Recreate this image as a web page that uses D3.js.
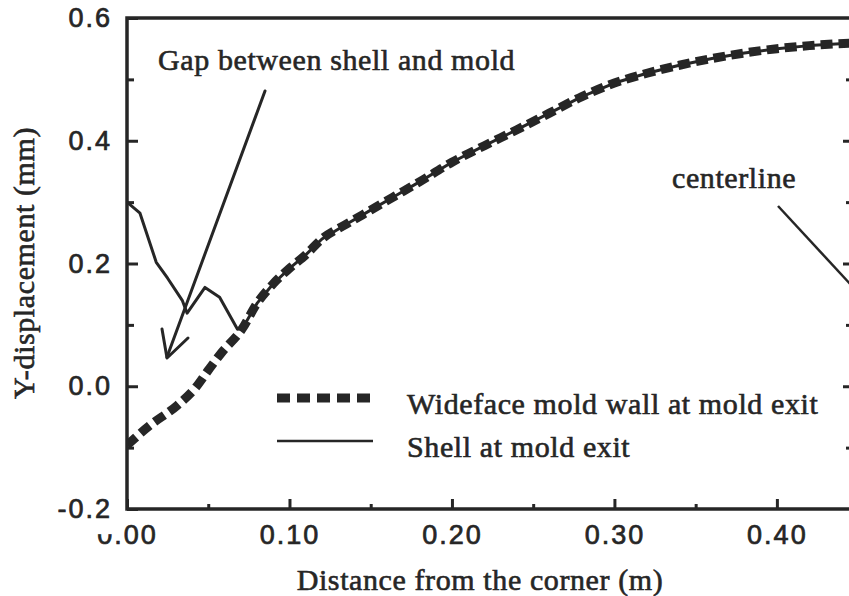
<!DOCTYPE html>
<html>
<head>
<meta charset="utf-8">
<script src="https://cdn.jsdelivr.net/npm/d3@7"></script>
<style>
  html, body { margin: 0; padding: 0; background: #fff; }
  svg { display: block; }
  .tick-label { font-family: "Liberation Sans", Arial, sans-serif; font-size: 27px; letter-spacing: 2px;
                fill: #262626; stroke: #262626; stroke-width: 0.7px; }
  .serif { font-family: "Liberation Serif", "Times New Roman", serif; font-size: 30px; letter-spacing: 0.6px;
           fill: #262626; stroke: #262626; stroke-width: 0.6px; }
</style>
</head>
<body>
<svg id="chart" width="849" height="596"></svg>
<script>
// Distance from the corner (m) and Y-displacement (mm) of the wideface mold wall
const moldX = [0.000, 0.014, 0.031, 0.042, 0.050, 0.058, 0.071, 0.080, 0.090, 0.100, 0.110,
               0.120, 0.135, 0.150, 0.165, 0.180, 0.200, 0.220, 0.240, 0.260, 0.280,
               0.300, 0.320, 0.340, 0.360, 0.380, 0.400, 0.420, 0.445];
const moldY = [-0.096, -0.064, -0.031, -0.003, 0.026, 0.054, 0.094, 0.135, 0.167, 0.192, 0.214,
               0.240, 0.264, 0.287, 0.310, 0.333, 0.365, 0.392, 0.418, 0.445, 0.472,
               0.494, 0.510, 0.523, 0.534, 0.543, 0.550, 0.555, 0.559];

// Shell near the corner; beyond ~0.07 m it lies against the mold wall
const shellX = [0.000, 0.008, 0.018, 0.025, 0.034, 0.037, 0.048, 0.057, 0.068, 0.071];
const shellY = [0.300, 0.282, 0.202, 0.176, 0.140, 0.119, 0.161, 0.145, 0.093, 0.094];

const xMajorTicks = [0, 0.1, 0.2, 0.3, 0.4];
const xMinorTicks = [0.05, 0.15, 0.25, 0.35];
const yMajorTicks = [-0.2, 0, 0.2, 0.4, 0.6];
const yMinorTicks = [-0.1, 0.1, 0.3, 0.5];

const legendLabels = ["Wideface mold wall at mold exit", "Shell at mold exit"];

const svg = d3.select("#chart");
const ink = "#262626";

const x = d3.scaleLinear().domain([0, 0.445]).range([127, 850]);
const y = d3.scaleLinear().domain([-0.2, 0.6]).range([509, 18]);

const mold = moldX.map((d, i) => ({ x: d, y: moldY[i] }));
const shellNear = shellX.map((d, i) => ({ x: d, y: shellY[i] }));
const shell = shellNear.concat(mold.filter(d => d.x > 0.071));

svg.append("defs").append("clipPath").attr("id", "plot")
  .append("rect").attr("x", 127).attr("y", 18).attr("width", 723).attr("height", 491);

const g = svg.append("g").attr("clip-path", "url(#plot)");

const line = d3.line().x(d => x(d.x)).y(d => y(d.y));
const smooth = d3.line().x(d => x(d.x)).y(d => y(d.y)).curve(d3.curveMonotoneX);

// shell (thin solid)
g.append("path").datum(shell)
  .attr("d", line)
  .attr("fill", "none").attr("stroke", ink).attr("stroke-width", 3)
  .attr("stroke-linejoin", "round");

// mold wall (thick dashed)
g.append("path").datum(mold)
  .attr("d", smooth)
  .attr("fill", "none").attr("stroke", ink).attr("stroke-width", 9)
  .attr("stroke-dasharray", "12,6");

// axes
const hyphenFmt = p => v => d3.format(p)(v).replace("\u2212", "-");
const tickStyle = sel => {
  sel.select(".domain").remove();
  sel.selectAll("line").attr("stroke", ink).attr("stroke-width", 3);
};
const labelStyle = sel => sel.selectAll("text")
  .attr("class", "tick-label").attr("font-size", null).attr("font-family", null).attr("fill", null);

svg.append("g").attr("transform", `translate(0,${y(-0.2)})`)
  .call(d3.axisBottom(x).tickValues(xMajorTicks).tickSize(-10).tickFormat(hyphenFmt(".2f")).tickPadding(16))
  .call(tickStyle).call(labelStyle);

svg.append("g").attr("transform", `translate(0,${y(-0.2)})`)
  .call(d3.axisBottom(x).tickValues(xMinorTicks).tickSize(-5).tickFormat(""))
  .call(tickStyle);

const yAxisG = svg.append("g").attr("transform", `translate(${x(0)},0)`)
  .call(d3.axisLeft(y).tickValues(yMajorTicks).tickSize(-11).tickFormat(hyphenFmt(".1f")).tickPadding(15))
  .call(tickStyle).call(labelStyle);

svg.append("g").attr("transform", `translate(${x(0)},0)`)
  .call(d3.axisLeft(y).tickValues(yMinorTicks).tickSize(-7).tickFormat(""))
  .call(tickStyle);

// right side ticks (inward)
svg.append("g").attr("transform", `translate(${x(0.445)},0)`)
  .call(d3.axisRight(y).tickValues(yMajorTicks.slice(1, 4)).tickSize(-7).tickFormat(""))
  .call(tickStyle);
svg.append("g").attr("transform", `translate(${x(0.445)},0)`)
  .call(d3.axisRight(y).tickValues(yMinorTicks).tickSize(-4).tickFormat(""))
  .call(tickStyle);

// the "-0.2" label sits on a white box that nicks the first x label
yAxisG.selectAll(".tick").filter(d => d === -0.2).each(function () {
  const t = d3.select(this).select("text");
  const b = t.node().getBBox();
  d3.select(this).insert("rect", "text")
    .attr("x", b.x - 2).attr("y", b.y).attr("width", b.width + 4).attr("height", b.height + 10)
    .attr("fill", "#fff");
});
yAxisG.raise();

// frame: left, top, bottom
svg.append("path")
  .attr("d", `M${x(0.445) + 2},${y(0.6)} H${x(0)} V${y(-0.2)} H${x(0.445) + 2}`)
  .attr("fill", "none").attr("stroke", ink).attr("stroke-width", 3.5);

// axis titles
svg.append("text").attr("class", "serif")
  .attr("x", 480).attr("y", 590).attr("text-anchor", "middle")
  .text("Distance from the corner (m)");

svg.append("text").attr("class", "serif")
  .attr("transform", "translate(34,263) rotate(-90)").attr("text-anchor", "middle")
  .text("Y-displacement (mm)");

// annotations
svg.append("text").attr("class", "serif").attr("x", 158).attr("y", 70)
  .text("Gap between shell and mold");

const arrow = svg.append("g").attr("stroke", ink).attr("stroke-width", 3).attr("fill", "none")
  .attr("stroke-linecap", "round").attr("stroke-linejoin", "round");
arrow.append("line").attr("x1", 265).attr("y1", 91).attr("x2", 167).attr("y2", 357);
arrow.append("path").attr("d", "M162,329 L167,358 L188,338");

svg.append("text").attr("class", "serif").attr("x", 672).attr("y", 188)
  .text("centerline");
svg.append("line").attr("x1", 778).attr("y1", 206).attr("x2", 852).attr("y2", 286)
  .attr("stroke", ink).attr("stroke-width", 2.5);

// legend
const legend = svg.append("g");
const legendY = [398, 441];
legend.append("line").attr("x1", 277).attr("x2", 373).attr("y1", legendY[0]).attr("y2", legendY[0])
  .attr("stroke", ink).attr("stroke-width", 9).attr("stroke-dasharray", "13,7");
legend.append("line").attr("x1", 277).attr("x2", 373).attr("y1", legendY[1]).attr("y2", legendY[1])
  .attr("stroke", ink).attr("stroke-width", 2.5);
legendLabels.forEach((t, i) => {
  legend.append("text").attr("class", "serif")
    .attr("x", 407).attr("y", legendY[i] + 16).text(t);
});
</script>
</body>
</html>
